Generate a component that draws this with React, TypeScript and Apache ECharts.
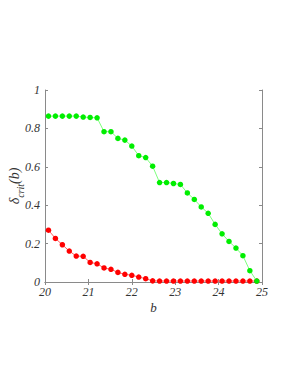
import React, { useEffect, useRef } from "react";
import * as echarts from "echarts";

const bValues = [
  20.08, 20.24, 20.4, 20.56, 20.72, 20.88, 21.04, 21.2, 21.36, 21.52, 21.68,
  21.84, 22.0, 22.16, 22.32, 22.48, 22.64, 22.8, 22.96, 23.12, 23.28, 23.44,
  23.6, 23.76, 23.92, 24.08, 24.24, 24.4, 24.56, 24.72, 24.88,
];
const greenValues = [
  0.864, 0.864, 0.864, 0.864, 0.864, 0.859, 0.857, 0.855, 0.783, 0.783, 0.748,
  0.739, 0.708, 0.658, 0.648, 0.603, 0.518, 0.518, 0.513, 0.508, 0.464, 0.43,
  0.391, 0.358, 0.3, 0.251, 0.211, 0.177, 0.137, 0.059, 0.005,
];
const redValues = [
  0.27, 0.227, 0.194, 0.161, 0.135, 0.134, 0.102, 0.095, 0.073, 0.066, 0.05,
  0.04, 0.035, 0.026, 0.017, 0.006, 0.005, 0.005, 0.005, 0.005, 0.005, 0.005,
  0.005, 0.005, 0.005, 0.005, 0.005, 0.005, 0.005, 0.005, 0.005,
];
const xTicks = [20, 21, 22, 23, 24, 25];
const yTicks = [0, 0.2, 0.4, 0.6, 0.8, 1];

const FONT = "'Liberation Serif', 'Times New Roman', serif";
const TEXT = "#333";
const AXIS = "#8a8a8a";

export default function App() {
  const ref = useRef<HTMLDivElement>(null);
  useEffect(() => {
    document.body.style.margin = "0";
    if (!ref.current) return;
    const chart = echarts.init(ref.current, undefined, { renderer: "svg" });
    const fmtY = (v: number) => (v === 0 || v === 1 ? String(v) : v.toFixed(1));
    const labelStyle = {
      fontFamily: FONT,
      fontStyle: "italic" as const,
      fontSize: 12,
      color: TEXT,
    };
    chart.setOption({
      animation: false,
      backgroundColor: "#fff",
      grid: { left: 45, right: 36, top: 90, bottom: 103, outerBoundsMode: "none", containLabel: false },
      xAxis: [
        {
          type: "value",
          min: xTicks[0],
          max: xTicks[xTicks.length - 1],
          interval: 1,
          axisLine: { show: true, onZero: false, lineStyle: { color: AXIS, width: 1 } },
          axisTick: { show: true, inside: true, length: 3, lineStyle: { color: AXIS } },
          axisLabel: { ...labelStyle, margin: 4 },
          splitLine: { show: false },
          name: "b",
          nameLocation: "middle",
          nameGap: 19,
          nameMoveOverlap: false,
          nameTextStyle: { ...labelStyle, fontSize: 13 },
        },
        {
          type: "value",
          position: "top",
          min: xTicks[0],
          max: xTicks[xTicks.length - 1],
          interval: 1,
          axisLine: { show: true, lineStyle: { color: AXIS, width: 1 } },
          axisTick: { show: true, inside: true, length: 3, lineStyle: { color: AXIS } },
          axisLabel: { show: false },
          splitLine: { show: false },
        },
      ],
      yAxis: [
        {
          type: "value",
          min: yTicks[0],
          max: yTicks[yTicks.length - 1],
          interval: 0.2,
          axisLine: { show: true, onZero: false, lineStyle: { color: AXIS, width: 1 } },
          axisTick: { show: true, inside: true, length: 3, lineStyle: { color: AXIS } },
          axisLabel: { ...labelStyle, margin: 5, formatter: fmtY },
          splitLine: { show: false },
          name: "{d|δ}{s|crit}{d|(b)}",
          nameLocation: "middle",
          nameGap: 24,
          nameMoveOverlap: false,
          nameRotate: 90,
          nameTextStyle: {
            rich: {
              d: { fontFamily: FONT, fontStyle: "italic", fontSize: 14, color: TEXT, verticalAlign: "bottom" },
              s: { fontFamily: FONT, fontStyle: "italic", fontSize: 10, color: TEXT, verticalAlign: "bottom", padding: [0, 0, -4, 0] },
            },
          },
        },
        {
          type: "value",
          position: "right",
          min: yTicks[0],
          max: yTicks[yTicks.length - 1],
          interval: 0.2,
          axisLine: { show: true, lineStyle: { color: AXIS, width: 1 } },
          axisTick: { show: true, inside: true, length: 3, lineStyle: { color: AXIS } },
          axisLabel: { show: false },
          splitLine: { show: false },
        },
      ],
      series: [
        {
          type: "line",
          data: bValues.map((b, i) => [b, redValues[i]]),
          symbol: "circle",
          symbolSize: 5.5,
          itemStyle: { color: "#ff0000" },
          lineStyle: { color: "#ff6060", width: 1 },
          z: 3,
        },
        {
          type: "line",
          data: bValues.map((b, i) => [b, greenValues[i]]),
          symbol: "circle",
          symbolSize: 5.5,
          itemStyle: { color: "#00ee00" },
          lineStyle: { color: "#7dff7d", width: 1 },
          z: 4,
        },
      ],
    });
    return () => chart.dispose();
  }, []);
  return <div ref={ref} style={{ width: 298, height: 385 }} />;
}
